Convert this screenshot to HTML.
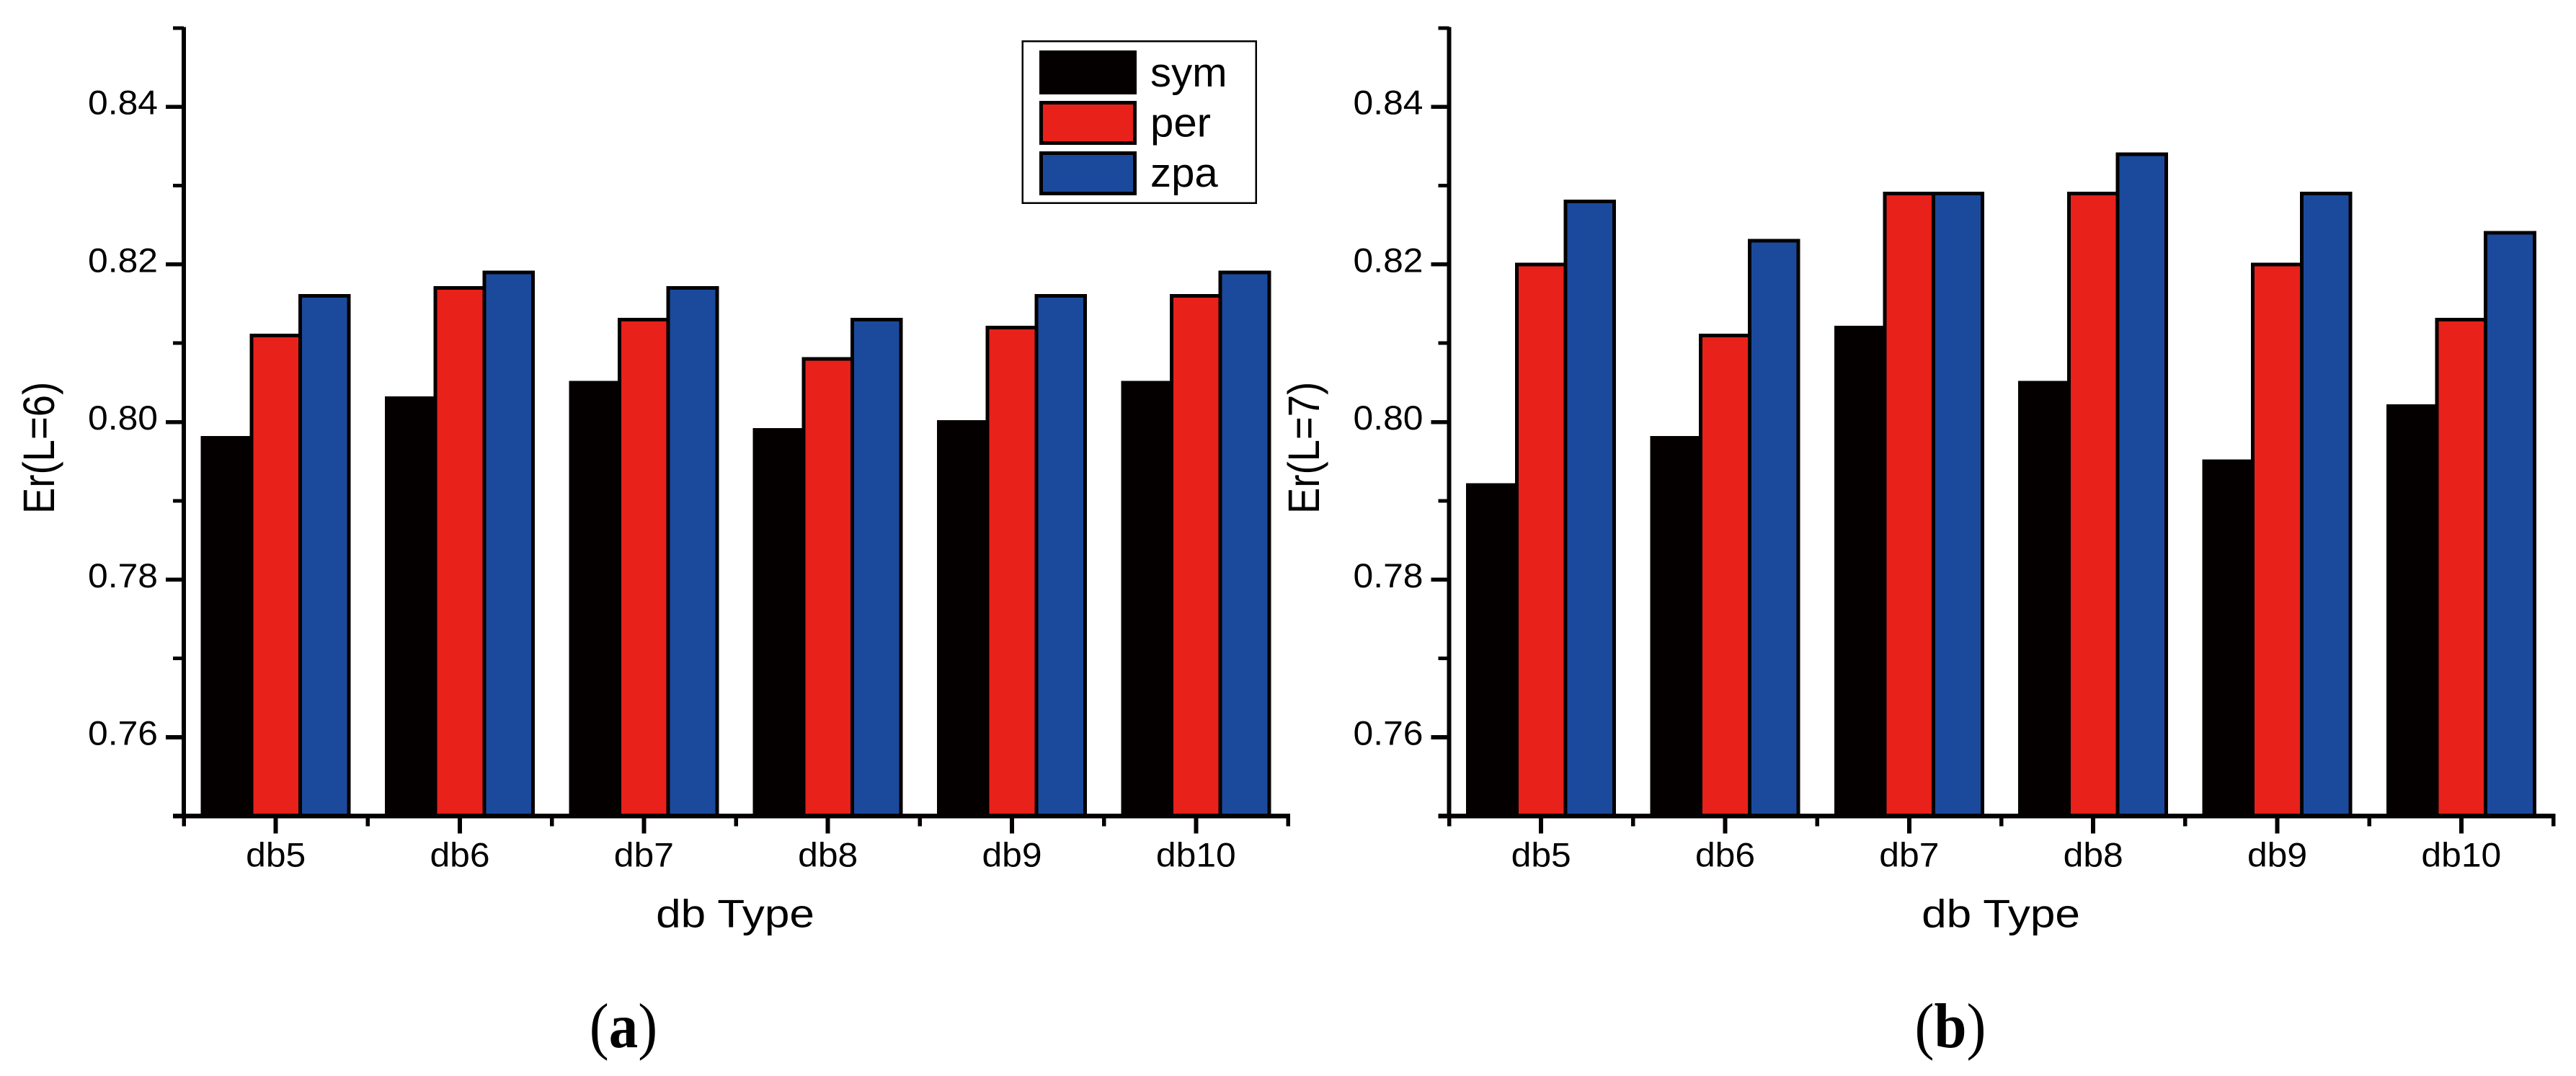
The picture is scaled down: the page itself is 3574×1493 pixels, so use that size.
<!DOCTYPE html>
<html lang="en">
<head>
<meta charset="utf-8">
<title>Er by db type</title>
<style>
html,body{margin:0;padding:0;background:#fff;width:3574px;height:1493px;overflow:hidden}
svg{display:block}
text{fill:#000;font-family:"Liberation Sans",Arial,sans-serif}
.cap{font-family:"Liberation Serif","Times New Roman",serif}
</style>
</head>
<body>
<svg id="chart" xmlns="http://www.w3.org/2000/svg" width="3574" height="1493" viewBox="0 0 3574 1493" shape-rendering="crispEdges">
  <rect x="0" y="0" width="3574" height="1493" fill="#fff"/>
  <g id="panel-a"></g>
  <g id="panel-b"></g>

  <text transform="translate(75,713) rotate(-90) scale(1,1.12)" font-size="54.5">Er(L=6)</text>
  <text transform="translate(1830,713) rotate(-90) scale(1,1.12)" font-size="54.5">Er(L=7)</text>
  <text transform="translate(1020,1286.5) scale(1.14,1)" font-size="54.5" text-anchor="middle">db Type</text>
  <text transform="translate(2776,1286.5) scale(1.14,1)" font-size="54.5" text-anchor="middle">db Type</text>

  <text class="cap" transform="translate(865,1452.8) scale(.92,1)" font-size="88" text-anchor="middle">(<tspan font-weight="bold">a</tspan>)</text>
  <text class="cap" transform="translate(2706,1452.8) scale(.92,1)" font-size="88" text-anchor="middle">(<tspan font-weight="bold">b</tspan>)</text>

  <g>
    <rect x="1418.5" y="57" width="324" height="224.5" fill="#fff" stroke="#040000" stroke-width="2.5"/>
    <rect x="1444.5" y="72.5" width="130" height="56" fill="#040000" stroke="#040000" stroke-width="5"/>
    <rect x="1444.5" y="142.5" width="130" height="56" fill="#E8211A" stroke="#040000" stroke-width="5"/>
    <rect x="1444.5" y="212.5" width="130" height="56" fill="#1B4A9C" stroke="#040000" stroke-width="5"/>
    <text transform="translate(1596,120) scale(1.02,1)" font-size="57">sym</text>
    <text transform="translate(1596,189.5) scale(1.02,1)" font-size="57">per</text>
    <text transform="translate(1596,259) scale(1.02,1)" font-size="57">zpa</text>
  </g>
</svg>
<script>
const categories = ['db5', 'db6', 'db7', 'db8', 'db9', 'db10'];
const seriesNames = ['sym', 'per', 'zpa'];
const symA = [0.798, 0.803, 0.805, 0.799, 0.800, 0.805];
const perA = [0.811, 0.817, 0.813, 0.808, 0.812, 0.816];
const zpaA = [0.816, 0.819, 0.817, 0.813, 0.816, 0.819];
const symB = [0.792, 0.798, 0.812, 0.805, 0.795, 0.802];
const perB = [0.820, 0.811, 0.829, 0.829, 0.820, 0.813];
const zpaB = [0.828, 0.823, 0.829, 0.834, 0.829, 0.824];
const yMajorTicks = [0.76, 0.78, 0.80, 0.82, 0.84];
const yMajorLabels = ['0.76', '0.78', '0.80', '0.82', '0.84'];
const yMinorTicks = [0.75, 0.77, 0.79, 0.81, 0.83, 0.85];

const SVG_NS = 'http://www.w3.org/2000/svg';
const INK = '#040000';
const FILLS = ['#040000', '#E8211A', '#1B4A9C'];
const Y_MIN = 0.75, Y_MAX = 0.85, Y_BOTTOM = 1132.3, Y_TOP = 38.8;
const X_SPAN = 1532, BAR_W = 67.7;

function yScale(v) {
  return Y_BOTTOM - (v - Y_MIN) / (Y_MAX - Y_MIN) * (Y_BOTTOM - Y_TOP);
}
function xScale(x0, i) {
  return x0 + (i + 0.5) * X_SPAN / categories.length;
}
function edgeScale(x0, i) {
  return x0 + i * X_SPAN / categories.length;
}
function makeLine(parent, x1, y1, x2, y2, w) {
  const l = document.createElementNS(SVG_NS, 'line');
  l.setAttribute('x1', x1);
  l.setAttribute('y1', y1);
  l.setAttribute('x2', x2);
  l.setAttribute('y2', y2);
  l.setAttribute('stroke', INK);
  l.setAttribute('stroke-width', w);
  parent.appendChild(l);
  return l;
}
function drawPanel(id, x0, series) {
  const g = document.getElementById(id);
  categories.forEach(function (cat, i) {
    series.forEach(function (vals, s) {
      const r = document.createElementNS(SVG_NS, 'rect');
      const left = xScale(x0, i) + (s - 1.5) * BAR_W;
      const top = yScale(vals[i]);
      r.setAttribute('x', left);
      r.setAttribute('y', top);
      r.setAttribute('width', BAR_W);
      r.setAttribute('height', Y_BOTTOM - top);
      r.setAttribute('fill', FILLS[s]);
      r.setAttribute('stroke', INK);
      r.setAttribute('stroke-width', 5);
      
      
      g.appendChild(r);
    });
  });
  const yAxis = makeLine(g, x0, Y_TOP - 1.5, x0, Y_BOTTOM, 6);
  
  
  const xAxis = makeLine(g, x0 - 15, Y_BOTTOM, x0 + X_SPAN + 3, Y_BOTTOM, 6.7);
  
  
  yMajorTicks.forEach(function (v, i) {
    const t = makeLine(g, x0 - 25, yScale(v), x0, yScale(v), 5.6);
    
    
    const label = document.createElementNS(SVG_NS, 'text');
    label.textContent = yMajorLabels[i];
    label.setAttribute('transform', 'translate(' + (x0 - 36) + ',' + (yScale(v) + 10.5) + ') scale(1.06,1)');
    label.setAttribute('font-size', 47);
    label.setAttribute('text-anchor', 'end');
    
    
    g.appendChild(label);
  });
  yMinorTicks.forEach(function (v) {
    const t = makeLine(g, x0 - 15, yScale(v), x0, yScale(v), 5);
    
    
  });
  categories.forEach(function (cat, i) {
    const t = makeLine(g, xScale(x0, i), Y_BOTTOM, xScale(x0, i), 1156.7, 6);
    
    
    const label = document.createElementNS(SVG_NS, 'text');
    label.textContent = cat;
    label.setAttribute('transform', 'translate(' + xScale(x0, i) + ',1202.5) scale(1.06,1)');
    label.setAttribute('font-size', 47);
    label.setAttribute('text-anchor', 'middle');
    
    
    g.appendChild(label);
  });
  for (let i = 0; i <= categories.length; i++) {
    const t = makeLine(g, edgeScale(x0, i), Y_BOTTOM, edgeScale(x0, i), 1146.7, 5.5);
    
    
  }
}
drawPanel('panel-a', 255, [symA, perA, zpaA]);
drawPanel('panel-b', 2010.5, [symB, perB, zpaB]);
</script>
</body>
</html>
